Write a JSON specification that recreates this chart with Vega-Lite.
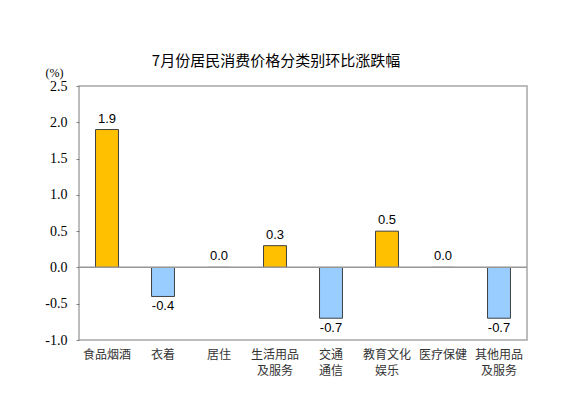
{
  "$schema": "https://vega.github.io/schema/vega-lite/v6.json",
  "autosize": "none",
  "width": 448,
  "height": 254,
  "padding": {"left": 79, "top": 86, "right": 40, "bottom": 57},
  "background": "white",
  "title": {
    "text": "7月份居民消费价格分类别环比涨跌幅",
    "font": "Noto Sans CJK SC",
    "fontSize": 15,
    "fontWeight": "normal",
    "color": "#000000",
    "anchor": "middle",
    "frame": "group",
    "dx": -27,
    "offset": -3
  },
  "config": {
    "view": {"stroke": "#A6A6A6", "strokeWidth": 1.5}
  },
  "data": {
    "values": [
      {"cat": "食品烟酒", "value": 1.9},
      {"cat": "衣着", "value": -0.4},
      {"cat": "居住", "value": 0.0},
      {"cat": "生活用品|及服务", "value": 0.3},
      {"cat": "交通|通信", "value": -0.7},
      {"cat": "教育文化|娱乐", "value": 0.5},
      {"cat": "医疗保健", "value": 0.0},
      {"cat": "其他用品|及服务", "value": -0.7}
    ]
  },
  "transform": [
    {"calculate": "replace(format(datum.value, '.1f'), '\u2212', '-')", "as": "txt"}
  ],
  "encoding": {
    "x": {
      "field": "cat",
      "type": "nominal",
      "sort": null,
      "scale": {"paddingInner": 0.59, "paddingOuter": 0.295},
      "axis": {
        "title": null,
        "labelAngle": 0,
        "labelExpr": "split(datum.label, '|')",
        "labelFont": "Noto Sans CJK SC",
        "labelFontSize": 12,
        "labelColor": "#333333",
        "labelLineHeight": 16,
        "labelPadding": 9,
        "ticks": false,
        "domain": false
      }
    },
    "y": {
      "field": "value",
      "type": "quantitative",
      "scale": {"domain": [-1, 2.5], "nice": false, "zero": false},
      "axis": {
        "values": [-1, -0.5, 0, 0.5, 1, 1.5, 2, 2.5],
        "labelExpr": "replace(format(datum.value, '.1f'), '\u2212', '-')",
        "labelOverlap": false,
        "labelFlush": false,
        "grid": false,
        "domain": false,
        "tickSize": 3,
        "tickColor": "#808080",
        "labelFont": "'Times New Roman', 'Liberation Serif', serif",
        "labelFontSize": 14,
        "labelColor": "#000000",
        "labelPadding": 9,
        "title": "(%)",
        "titleAngle": 0,
        "titleX": -25,
        "titleY": -14,
        "titleAlign": "center",
        "titleBaseline": "middle",
        "titleFont": "'Times New Roman', 'Liberation Serif', serif",
        "titleFontSize": 12,
        "titleFontWeight": "normal",
        "titleColor": "#000000"
      }
    }
  },
  "layer": [
    {
      "mark": {"type": "bar", "stroke": "#404040", "strokeWidth": 1},
      "encoding": {
        "color": {
          "condition": {"test": "datum.value > 0", "value": "#FFC000"},
          "value": "#99CCFF"
        }
      }
    },
    {
      "mark": {"type": "rule", "color": "#999999", "strokeWidth": 1},
      "encoding": {"y": {"datum": 0, "type": "quantitative"}, "x": null}
    },
    {
      "transform": [{"filter": "datum.value >= 0"}],
      "mark": {"type": "text", "baseline": "alphabetic", "dy": -7, "font": "Liberation Sans", "fontSize": 13, "color": "#000000"},
      "encoding": {
        "text": {"field": "txt", "type": "nominal"}
      }
    },
    {
      "transform": [{"filter": "datum.value < 0"}],
      "mark": {"type": "text", "baseline": "top", "dy": 4, "font": "Liberation Sans", "fontSize": 13, "color": "#000000"},
      "encoding": {
        "text": {"field": "txt", "type": "nominal"}
      }
    }
  ]
}
